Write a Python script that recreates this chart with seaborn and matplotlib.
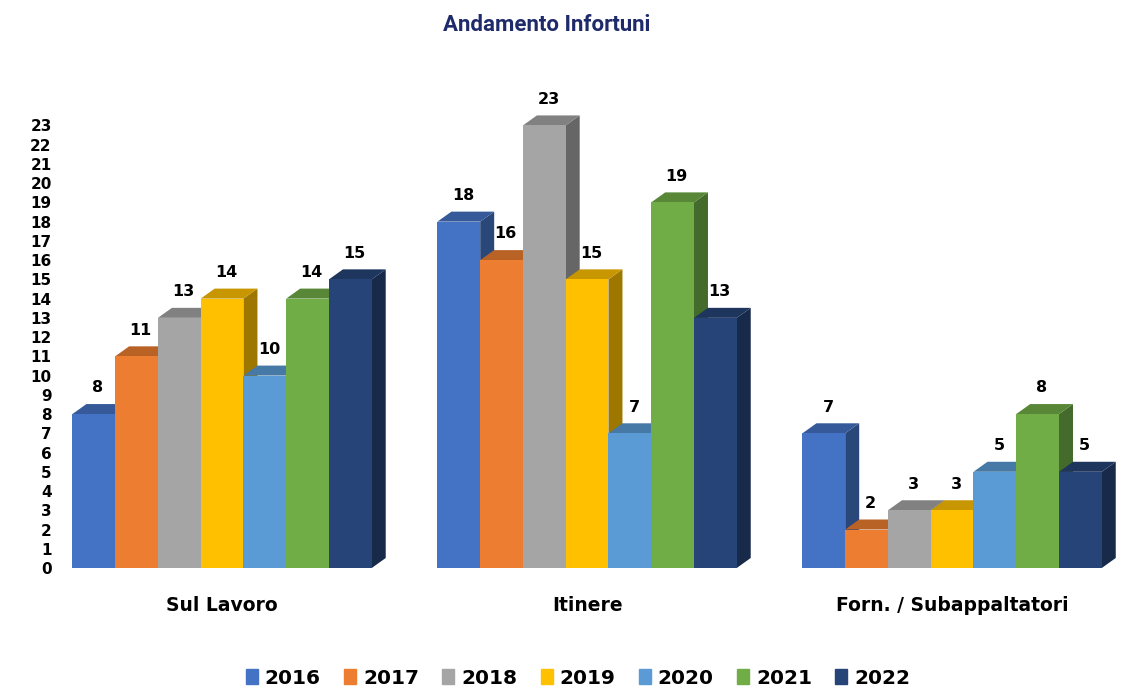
import pandas as pd
import seaborn as sns
import matplotlib.pyplot as plt
from matplotlib.patches import Polygon
from matplotlib.colors import to_rgb

# Data
categories = ["Sul Lavoro", "Itinere", "Forn. / Subappaltatori"]
years = ["2016", "2017", "2018", "2019", "2020", "2021", "2022"]
values = {
    "2016": [8, 18, 7],
    "2017": [11, 16, 2],
    "2018": [13, 23, 3],
    "2019": [14, 15, 3],
    "2020": [10, 7, 5],
    "2021": [14, 19, 8],
    "2022": [15, 13, 5],
}
colors = ["#4472C4", "#ED7D31", "#A5A5A5", "#FFC000", "#5B9BD5", "#70AD47", "#264478"]

rows = []
for y in years:
    for c, v in zip(categories, values[y]):
        rows.append({"Categoria": c, "Anno": y, "Valore": v})
df = pd.DataFrame(rows)

sns.set_style("white")
plt.rcParams["font.family"] = ["DejaVu Sans"]
plt.rcParams["text.color"] = "black"
plt.rcParams["xtick.color"] = "black"
plt.rcParams["ytick.color"] = "black"

fig = plt.figure(figsize=(11.29, 6.91), dpi=100)
ax = fig.add_axes([60 / 1129, 1 - 568 / 691, 1060 / 1129, 508 / 691])

sns.barplot(data=df, x="Categoria", y="Valore", hue="Anno", palette=colors,
            width=0.82, saturation=1, gap=0, ax=ax, legend=False)

ax.set_xlim(-0.444, 2.46)
ax.set_ylim(0, 26.4)

# fake 3D depth
dx = 14 / 365
dy = 0.52


def shade(col, f):
    r, g, b = to_rgb(col)
    return (r * f, g * f, b * f)


bars = ax.patches[:]
n_cat = len(categories)
for i, p in enumerate(bars):
    k = i // n_cat
    col = colors[k]
    x0 = p.get_x()
    w = p.get_width()
    h = p.get_height()
    base = 2 + k * 0.1
    p.set_zorder(base + 0.05)
    p.set_edgecolor("none")
    side = Polygon([(x0 + w, 0), (x0 + w + dx, dy), (x0 + w + dx, h + dy), (x0 + w, h)],
                   closed=True, facecolor=shade(col, 0.62), edgecolor="none", zorder=base)
    top = Polygon([(x0, h), (x0 + dx, h + dy), (x0 + w + dx, h + dy), (x0 + w, h)],
                  closed=True, facecolor=shade(col, 0.78), edgecolor="none", zorder=base)
    ax.add_patch(side)
    ax.add_patch(top)
    ax.text(x0 + w / 2 + dx * 0.3, h + dy + 0.45, str(int(h)), ha="center", va="bottom",
            fontsize=11.5, fontweight="bold", color="black", zorder=10)

ax.set_yticks(range(0, 24))
ax.tick_params(axis="y", length=0, pad=6, labelsize=11)
ax.tick_params(axis="x", length=0, pad=20, labelsize=13.5)
for lab in ax.get_yticklabels() + ax.get_xticklabels():
    lab.set_fontweight("bold")
ax.set_xlabel("")
ax.set_ylabel("")
sns.despine(ax=ax, left=True, bottom=True)

# legend
handles = [plt.Rectangle((0, 0), 1, 1, color=c) for c in colors]
fig.legend(handles, years, loc="center", bbox_to_anchor=(0.512, 1 - 678 / 691), ncol=7,
           frameon=False, prop={"weight": "bold", "size": 14.5}, handlelength=0.6,
           handleheight=0.75, handletextpad=0.35, columnspacing=1.15)

fig.text(547 / 1129, 1 - 25 / 691, "Andamento Infortuni", ha="center", va="center",
         fontsize=16, fontweight="bold", color="#1F2A6B", family=["Roboto", "DejaVu Sans"])

fig.savefig("out.png", dpi=100)
